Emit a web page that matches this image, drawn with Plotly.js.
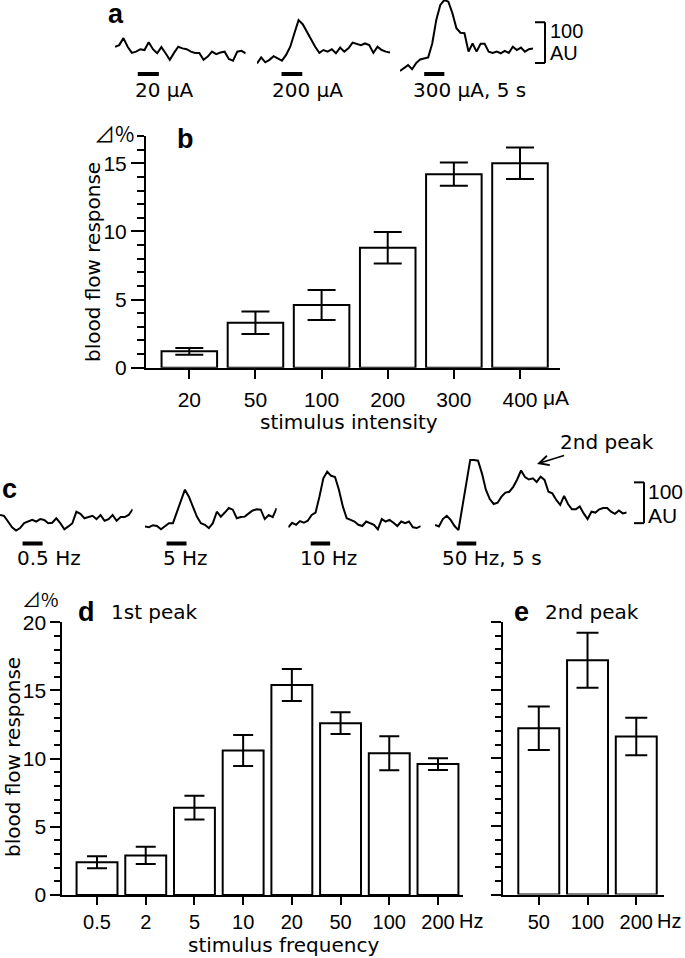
<!DOCTYPE html>
<html><head><meta charset="utf-8">
<script src="https://cdn.plot.ly/plotly-3.0.1.min.js"></script>
<style>html,body{margin:0;padding:0;background:#fff}</style>
</head><body><div id="chart" style="width:685px;height:958px"></div>
<script>
// ---------- data ----------
// panel b: stimulus intensity (uA)
const intensityCats = ['20', '50', '100', '200', '300', '400'];
const intensityMean = [1.2, 3.3, 4.6, 8.8, 14.2, 15.0];
const intensitySem  = [0.25, 0.83, 1.1, 1.15, 0.85, 1.15];
// panel d: stimulus frequency (Hz), 1st peak
const freqCats  = ['0.5', '2', '5', '10', '20', '50', '100', '200'];
const freqMean1 = [2.4, 2.9, 6.4, 10.6, 15.4, 12.6, 10.4, 9.6];
const freqSem1  = [0.44, 0.63, 0.87, 1.13, 1.17, 0.8, 1.25, 0.43];
// panel e: 2nd peak
const freqCats2 = ['50', '100', '200'];
const freqMean2 = [12.2, 17.2, 11.6];
const freqSem2  = [1.6, 2.02, 1.38];
// panel a traces (AU, 1 sample per s)
const traceA20  = [8, 12, 29, 8, -7, -4, 2, 0, 19, 2, -8, 7, -8, -24, -7, 8, 4, 2, -4, -7, -7, -24, -16, -4, -10, -6, -4, -22, -26, -4, -2, -8];
const traceA200 = [-33, -18, -30, -24, -15, -20, -26, -12, 8, 41, 73, 63, 45, 24, 8, -7, 0, -4, 2, -8, 6, -4, 4, 18, 15, 12, 16, 12, -7, 8, 0, -4, -6];
const traceA300 = [-51, -45, -37, -47, -32, -23, -20, -18, 16, 73, 110, 122, 118, 90, 53, 42, 41, -4, 16, -4, 15, 15, -4, -7, -4, -8, -2, -7, 8, 0, 6, -4, 2, 4];
const stimOnsetA = [5.4, 5.9, 6.0];
const labelsA = ['20 μA', '200 μA', '300 μA, 5 s'];
// panel c traces (AU)
const traceC05 = [12, 10, -4, -18, -26, -20, -8, -4, 0, -4, 2, 0, -8, -7, 4, -8, -23, -16, -8, 20, 15, 4, 7, 10, 2, 12, -2, 2, 12, -2, 7, 7, 12, 26];
const traceC5  = [-16, -18, -13, -15, -23, -15, -8, -8, 20, 45, 74, 57, 33, 8, -8, -12, -20, -8, 20, 8, 18, 29, 25, 4, 7, 8, 16, 23, 26, 25, 2, 12, 7, 29];
const traceC10 = [-18, -7, -12, -3, -7, -2, 12, 18, 57, 102, 118, 108, 105, 74, 33, 4, 0, -4, -12, -15, -4, -8, -12, -23, 2, -4, 0, -7, -15, -4, -8, -4, -18, -20, -15];
const traceC50 = [-12, -16, 2, 10, 0, -15, -25, 33, 98, 147, 147, 145, 114, 74, 51, 39, 42, 57, 67, 69, 81, 99, 121, 105, 99, 102, 93, 106, 98, 69, 65, 49, 37, 59, 39, 26, 26, 33, 16, 2, 20, 18, 26, 29, 29, 20, 15, 23, 16, 18];
const stimOnsetC = [5.6, 5.4, 5.75, 5.55];
const labelsC = ['0.5 Hz', '5 Hz', '10 Hz', '50 Hz, 5 s'];
const stimDuration = 5;
const scaleBarAU = 100;

// ---------- layout helpers ----------
const W = 685, H = 958;
const px = v => v / W;
const py = v => 1 - v / H;
const FONT = 'DejaVu Sans, Liberation Sans, Arial, sans-serif';
const TICKFONT = 'Liberation Sans, Arial, Helvetica, sans-serif';
const BOLD = 'Liberation Sans, Arial, sans-serif';
const SYM = 'Noto Sans CJK JP, DejaVu Sans, sans-serif';
const black = '#000';

const data = [];
const layout = {
  width: W, height: H,
  margin: {l: 0, r: 0, t: 0, b: 0},
  paper_bgcolor: '#fff', plot_bgcolor: 'rgba(0,0,0,0)',
  showlegend: false,
  font: {family: FONT, size: 20, color: black},
  shapes: [], annotations: []
};

function barAxes(xName, yName, xDom, yDom, xRange, yMax, yLabels, xLen, yLen, yMinorLen, xFont, xStandoff) {
  layout[xName] = {
    domain: [px(xDom[0]), px(xDom[1])], anchor: yName.replace('axis', ''),
    type: 'category', range: xRange, showline: true, linewidth: 2, linecolor: black,
    ticks: 'outside', ticklen: xLen, tickwidth: 2, tickcolor: black,
    showgrid: false, zeroline: false, fixedrange: true,
    tickfont: {size: xFont, family: TICKFONT}, ticklabelstandoff: xStandoff
  };
  layout[yName] = {
    domain: [py(yDom[0]), py(yDom[1])], anchor: xName.replace('axis', ''),
    range: [0, yMax], tick0: 0, dtick: 5, showline: true, linewidth: 2, linecolor: black,
    ticks: 'outside', ticklen: yLen, tickwidth: 2, tickcolor: black,
    minor: {ticks: 'outside', ticklen: yMinorLen, tickwidth: 2, tickcolor: black, dtick: 1, tick0: 0, showgrid: false},
    showticklabels: yLabels, showgrid: false, zeroline: false, fixedrange: true,
    tickfont: {size: 21, family: TICKFONT}
  };
}

function addBars(cats, mean, sem, xa, ya, capW) {
  data.push({
    type: 'bar', x: cats, y: mean, xaxis: xa, yaxis: ya, width: 0.84,
    marker: {color: '#fff', line: {color: black, width: 2}},
    error_y: {type: 'data', array: sem, visible: true, color: black, thickness: 2, width: capW},
    hoverinfo: 'skip'
  });
}

// panel b
barAxes('xaxis', 'yaxis', [146, 560], [367.7, 136], [-0.655, 5.605], 17, true, 9, 13, 7, 21, 3);
addBars(intensityCats, intensityMean, intensitySem, 'x', 'y', 14);
// panel d
barAxes('xaxis2', 'yaxis2', [62.3, 463.3], [895, 622.3], [-0.713, 7.52], 20, true, 8, 10, 6, 20, 0);
addBars(freqCats, freqMean1, freqSem1, 'x2', 'y2', 10);
// panel e
barAxes('xaxis3', 'yaxis3', [502.7, 664.3], [894.5, 622], [-0.74, 2.575], 20, false, 8, 10, 6, 20, 0);
addBars(freqCats2, freqMean2, freqSem2, 'x3', 'y3', 11);

// ---------- traces ----------
function traceGroup(traces, onsets, xStartsPx, xEndsPx, yName, yDomPx, yRange, stimY, firstX) {
  const yId = yName.replace('axis', '');
  layout[yName] = {domain: [py(yDomPx[0]), py(yDomPx[1])], range: yRange, visible: false, fixedrange: true, anchor: 'x' + firstX};
  traces.forEach((tr, k) => {
    const n = firstX + k;
    const xName = 'xaxis' + n, xId = 'x' + n;
    layout[xName] = {domain: [px(xStartsPx[k]), px(xEndsPx[k])], range: [0, tr.length - 1], visible: false, fixedrange: true, anchor: yId};
    data.push({type: 'scatter', mode: 'lines', x: tr.map((_, i) => i), y: tr, xaxis: xId, yaxis: yId,
      line: {color: black, width: 2}, hoverinfo: 'skip'});
    layout.shapes.push({type: 'line', xref: xId, yref: 'paper', x0: onsets[k], x1: onsets[k] + stimDuration,
      y0: py(stimY), y1: py(stimY), line: {color: black, width: 4}});
  });
}

traceGroup([traceA20, traceA200, traceA300], stimOnsetA,
  [115, 257, 400], [245.7, 390, 533], 'yaxis4', [74.6, 0], [-60, 122], 74, 4);
traceGroup([traceC05, traceC5, traceC10, traceC50], stimOnsetC,
  [0, 145, 288.3, 435], [132.7, 276.7, 420.7, 626.7], 'yaxis5', [535, 455], [-37, 159], 543.5, 7);

// scale bars (100 AU)
function scaleBar(yId, xPx, lowAU) {
  const xa = px(xPx), xb = px(xPx - 10);
  const s = {xref: 'paper', yref: yId, type: 'line', line: {color: black, width: 2}};
  layout.shapes.push(Object.assign({}, s, {x0: xa, x1: xa, y0: lowAU, y1: lowAU + scaleBarAU}));
  layout.shapes.push(Object.assign({}, s, {x0: xb, x1: xa, y0: lowAU, y1: lowAU}));
  layout.shapes.push(Object.assign({}, s, {x0: xb, x1: xa, y0: lowAU + scaleBarAU, y1: lowAU + scaleBarAU}));
}
scaleBar('y4', 545, -32);
scaleBar('y5', 644, -8);

// ---------- text ----------
function ann(text, x, y, o = {}) {
  layout.annotations.push(Object.assign({
    text, xref: 'paper', yref: 'paper', x: px(x), y: py(y), xanchor: 'left', yanchor: 'middle',
    showarrow: false, font: {family: FONT, size: 20, color: black}
  }, o));
}
const bold = {font: {family: BOLD, size: 27, color: black}};
const tickLike = s => ({font: {family: TICKFONT, size: s, color: black}});
const sym = s => ({xanchor: 'right', font: {family: SYM, size: s, color: black}});
ann('<b>a</b>', 106, 14, bold);
ann(labelsA[0], 133, 90); ann(labelsA[1], 270, 90); ann(labelsA[2], 411, 90);
ann('100', 548, 31, tickLike(20)); ann('AU', 548, 53, tickLike(20));
ann('<b>b</b>', 175, 139, bold);
ann('⊿%', 136, 133, sym(21));
ann('μA', 541, 397, tickLike(21));
ann('stimulus intensity', 349, 422, {xanchor: 'center'});
ann('blood flow response', 93, 262, {xanchor: 'center', textangle: -90});
ann('<b>c</b>', 0, 489, bold);
ann(labelsC[0], 15, 558); ann(labelsC[1], 161, 558); ann(labelsC[2], 298, 558); ann(labelsC[3], 440, 558);
ann('100', 646, 491, tickLike(21)); ann('AU', 646, 515, tickLike(21));
layout.annotations.push({text: '2nd peak', xref: 'paper', yref: 'paper', x: px(537), y: py(464),
  ax: 70, ay: -22, axref: 'pixel', ayref: 'pixel', showarrow: true, arrowhead: 5, arrowsize: 1.2, arrowwidth: 1.6,
  arrowcolor: black, standoff: 0, font: {family: FONT, size: 20, color: black}});
ann('⊿%', 61, 598, sym(19));
ann('<b>d</b>', 76, 612, bold);
ann('1st peak', 109, 612);
ann('<b>e</b>', 512, 612, bold);
ann('2nd peak', 543, 612);
ann('Hz', 457, 921, tickLike(20)); ann('Hz', 655, 921, tickLike(20));
ann('stimulus frequency', 283, 945, {xanchor: 'center'});
ann('blood flow response', 13, 757, {xanchor: 'center', textangle: -90});

Plotly.newPlot('chart', data, layout, {staticPlot: true, displayModeBar: false});
</script></body></html>
